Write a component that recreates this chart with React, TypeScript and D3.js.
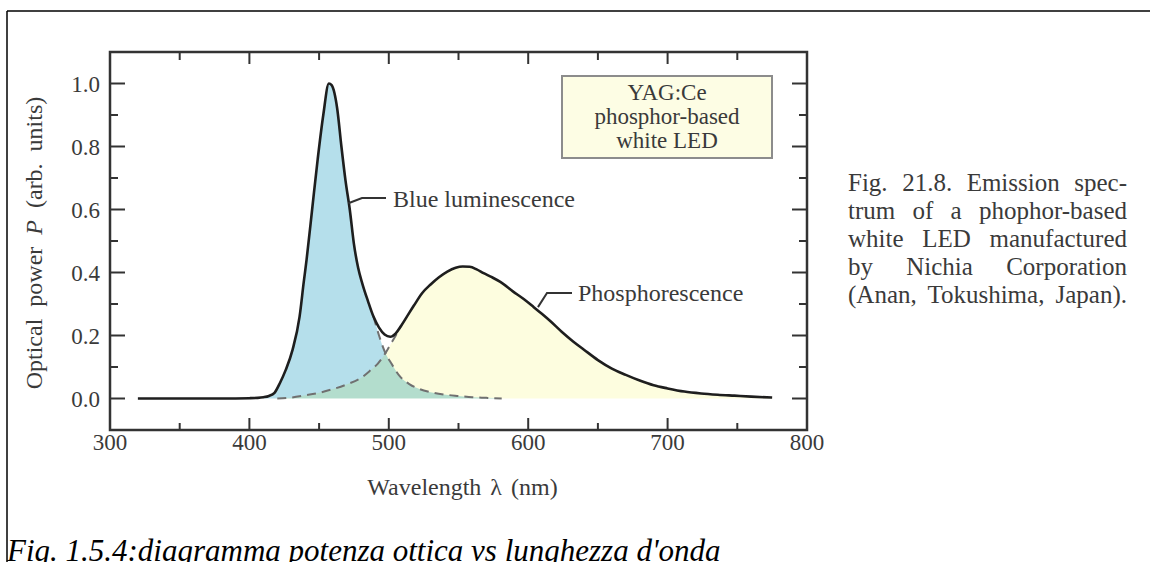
import { useLayoutEffect, useRef } from "react"
import * as d3 from "d3"

// measured emission spectrum (sum curve)
const wlTotal = [320, 340, 360, 380, 400, 406, 410, 414, 418, 422, 426, 431, 436, 439, 441, 445, 449, 453, 457, 459, 461, 463, 466, 469, 472, 475, 478, 481, 485, 489, 493, 497, 501, 505, 509, 513, 518, 524, 530, 536, 542, 548, 553, 558, 563, 568, 574, 580, 589, 597, 604, 610, 616, 624, 632, 640, 650, 660, 670, 680, 690, 700, 712, 724, 736, 748, 760, 775]
const pTotal = [0, 0, 0, 0, 0.001, 0.002, 0.004, 0.008, 0.018, 0.05, 0.09, 0.155, 0.26, 0.37, 0.44, 0.6, 0.76, 0.9, 1.0, 0.995, 0.97, 0.92, 0.8, 0.69, 0.6, 0.49, 0.415, 0.365, 0.31, 0.26, 0.225, 0.203, 0.196, 0.207, 0.232, 0.26, 0.295, 0.335, 0.362, 0.385, 0.403, 0.415, 0.419, 0.418, 0.41, 0.398, 0.385, 0.37, 0.34, 0.315, 0.29, 0.268, 0.245, 0.212, 0.182, 0.155, 0.122, 0.095, 0.075, 0.057, 0.042, 0.032, 0.022, 0.016, 0.012, 0.009, 0.006, 0.003]

// blue luminescence tail (dashed, right of the dip)
const wlBlueTail = [493, 497, 502, 508, 515, 522, 530, 541, 550, 560, 570, 581]
const pBlueTail = [0.2, 0.15, 0.11, 0.07, 0.045, 0.03, 0.02, 0.012, 0.008, 0.004, 0.002, 0]

// phosphorescence rise (dashed, left of the dip)
const wlPhosRise = [420, 430, 440, 450, 460, 470, 480, 487, 492, 497, 501, 505]
const pPhosRise = [0, 0.003, 0.01, 0.018, 0.03, 0.045, 0.065, 0.09, 0.11, 0.14, 0.17, 0.2]

const xMajor = [300, 400, 500, 600, 700, 800]
const xMinor = [350, 450, 550, 650, 750]
const yMajor = [0, 0.2, 0.4, 0.6, 0.8, 1.0]
const yMinor = [0.1, 0.3, 0.5, 0.7, 0.9]

const legendLines = ["YAG:Ce", "phosphor-based", "white LED"]
const sideCaption = [
  "Fig. 21.8. Emission spec-",
  "trum of a phophor-based",
  "white LED manufactured",
  "by Nichia Corporation",
  "(Anan, Tokushima, Japan).",
]

type Pt = [number, number]

const zip = (xs: number[], ys: number[]): Pt[] => xs.map((x, i) => [x, ys[i]])

const serif = "'Liberation Serif', 'Times New Roman', serif"

export default function App() {
  const W = 1150
  const H = 562
  const left = 110
  const right = 807
  const top = 52
  const bottom = 430
  const capX = 848
  const capWidth = 279

  const capRefs = useRef<(SVGTextElement | null)[]>([])

  // justify the side caption by stretching the word gaps
  useLayoutEffect(() => {
    capRefs.current.forEach((el) => {
      if (!el) return
      el.setAttribute("word-spacing", "0")
      const len = el.getComputedTextLength()
      const gaps = (el.textContent || "").split(" ").length - 1
      if (gaps > 0 && len < capWidth) {
        el.setAttribute("word-spacing", String((capWidth - len) / gaps))
      }
    })
  }, [])

  const x = d3.scaleLinear().domain([300, 800]).range([left, right])
  const y = d3.scaleLinear().domain([-0.1, 1.1]).range([bottom, top])

  const total = zip(wlTotal, pTotal)
  const blueTail = zip(wlBlueTail, pBlueTail)
  const phosRise = zip(wlPhosRise, pPhosRise)

  // components built from the measured pieces
  const blue: Pt[] = [...total.filter((d) => d[0] >= 410 && d[0] <= 489), ...blueTail]
  const phos: Pt[] = [...phosRise, ...total.filter((d) => d[0] >= 509)]
  const blueDash: Pt[] = [...total.filter((d) => d[0] === 489), ...blueTail]
  const phosDash: Pt[] = [...phosRise, ...total.filter((d) => d[0] === 509)]

  const line = d3
    .line<Pt>()
    .x((d) => x(d[0]))
    .y((d) => y(d[1]))
    .curve(d3.curveMonotoneX)

  const area = d3
    .area<Pt>()
    .x((d) => x(d[0]))
    .y0(y(0))
    .y1((d) => y(d[1]))
    .curve(d3.curveMonotoneX)

  const axisColor = "#333"
  const textColor = "#3a3a3a"

  return (
    <svg width={W} height={H} style={{ position: "absolute", left: 0, top: 0, background: "#fff" }}>
      {/* page frame */}
      <line x1={7} y1={11} x2={W} y2={11} stroke="#000" strokeWidth={1.5} />
      <line x1={7} y1={11} x2={7} y2={H} stroke="#000" strokeWidth={1.5} />

      {/* fills */}
      <g style={{ isolation: "isolate" }}>
        <path d={area(phos) || ""} fill="#fdfddf" />
        <path d={area(blue) || ""} fill="#b5dfeb" style={{ mixBlendMode: "multiply" }} />
      </g>

      {/* dashed components */}
      <path d={line(blueDash) || ""} fill="none" stroke="#707070" strokeWidth={2} strokeDasharray="9,6" />
      <path d={line(phosDash) || ""} fill="none" stroke="#707070" strokeWidth={2} strokeDasharray="9,6" />

      {/* total spectrum */}
      <path d={line(total) || ""} fill="none" stroke="#1e1e1e" strokeWidth={2.6} strokeLinejoin="round" />

      {/* frame and ticks */}
      <rect x={left} y={top} width={right - left} height={bottom - top} fill="none" stroke={axisColor} strokeWidth={2.5} />
      {xMajor.map((v) => (
        <g key={`xM${v}`}>
          <line x1={x(v)} x2={x(v)} y1={bottom} y2={bottom - 12} stroke={axisColor} strokeWidth={2} />
          <line x1={x(v)} x2={x(v)} y1={top} y2={top + 12} stroke={axisColor} strokeWidth={2} />
          <text x={x(v)} y={bottom + 20} textAnchor="middle" fontFamily={serif} fontSize={23} fill={textColor}>
            {v}
          </text>
        </g>
      ))}
      {xMinor.map((v) => (
        <g key={`xm${v}`}>
          <line x1={x(v)} x2={x(v)} y1={bottom} y2={bottom - 7} stroke={axisColor} strokeWidth={2} />
          <line x1={x(v)} x2={x(v)} y1={top} y2={top + 8} stroke={axisColor} strokeWidth={2} />
        </g>
      ))}
      {yMajor.map((v) => (
        <g key={`yM${v}`}>
          <line x1={left} x2={left + 15} y1={y(v)} y2={y(v)} stroke={axisColor} strokeWidth={2} />
          <line x1={right} x2={right - 15} y1={y(v)} y2={y(v)} stroke={axisColor} strokeWidth={2} />
          <text x={100} y={y(v) + 8} textAnchor="end" fontFamily={serif} fontSize={23} fill={textColor}>
            {v.toFixed(1)}
          </text>
        </g>
      ))}
      {yMinor.map((v) => (
        <g key={`ym${v}`}>
          <line x1={left} x2={left + 8} y1={y(v)} y2={y(v)} stroke={axisColor} strokeWidth={2} />
          <line x1={right} x2={right - 8} y1={y(v)} y2={y(v)} stroke={axisColor} strokeWidth={2} />
        </g>
      ))}

      {/* axis titles */}
      <text x={(left + right) / 2 + 4} y={495} textAnchor="middle" fontFamily={serif} fontSize={24} fill={textColor} wordSpacing={3}>
        Wavelength λ (nm)
      </text>
      <text
        transform={`translate(42,${(top + bottom) / 2 + 2}) rotate(-90)`}
        textAnchor="middle"
        fontFamily={serif}
        fontSize={24}
        fill={textColor}
        wordSpacing={6}
      >
        Optical power <tspan fontStyle="italic">P</tspan> (arb. units)
      </text>

      {/* legend box */}
      <rect x={562} y={76} width={210} height={82} fill="#fdfde4" stroke="#8c8c8c" strokeWidth={2} />
      {legendLines.map((t, i) => (
        <text key={t} x={667} y={100 + i * 24} textAnchor="middle" fontFamily={serif} fontSize={23} fill={textColor}>
          {t}
        </text>
      ))}

      {/* annotations */}
      <polyline points={`${x(471)},${y(0.62)} 362,198 386,198`} fill="none" stroke="#333" strokeWidth={2} />
      <text x={393} y={207} fontFamily={serif} fontSize={24} fill={textColor}>
        Blue luminescence
      </text>
      <polyline points={`${x(607)},${y(0.29)} 547,293 572,293`} fill="none" stroke="#333" strokeWidth={2} />
      <text x={578} y={301} fontFamily={serif} fontSize={24} fill={textColor}>
        Phosphorescence
      </text>

      {/* side caption */}
      {sideCaption.map((t, i) => (
        <text
          key={t}
          ref={(el) => {
            capRefs.current[i] = el
          }}
          x={capX}
          y={191 + i * 28}
          fontFamily={serif}
          fontSize={25}
          fill={textColor}
        >
          {t}
        </text>
      ))}

      {/* figure caption */}
      <text x={7} y={561} fontFamily={serif} fontSize={31} fontStyle="italic" fill="#000">
        Fig. 1.5.4:diagramma potenza ottica vs lunghezza d'onda
      </text>
    </svg>
  )
}
